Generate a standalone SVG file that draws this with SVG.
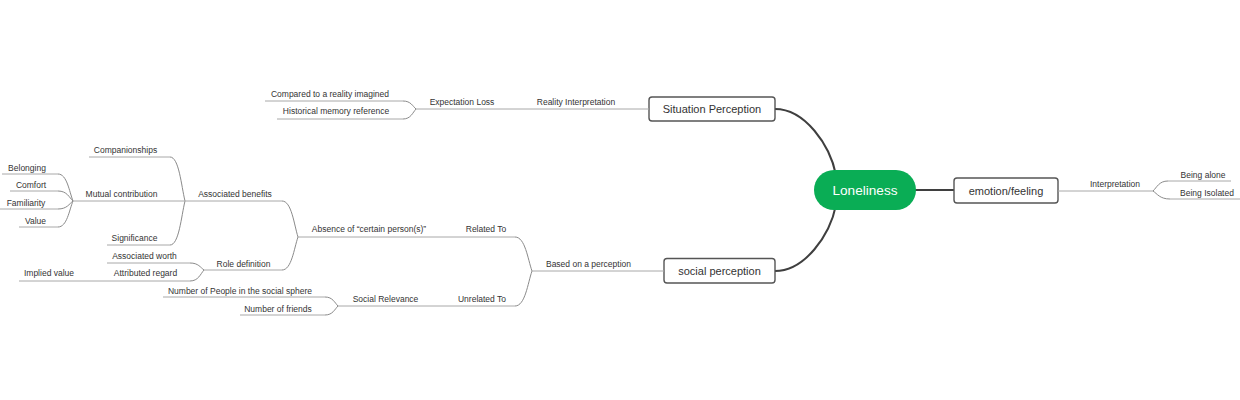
<svg xmlns="http://www.w3.org/2000/svg" width="1240" height="400" viewBox="0 0 1240 400">
<style>
.t{font-family:"Liberation Sans",Arial,sans-serif;font-size:8.5px;fill:#333;text-anchor:middle}
.nt{font-family:"Liberation Sans",Arial,sans-serif;font-size:11px;fill:#333;text-anchor:middle}
.ul{stroke:#a8a8a8;stroke-width:1;fill:none}
.br{stroke:#8a8a8a;stroke-width:1;fill:none}
.main{stroke:#3f3f3f;stroke-width:2;fill:none}
.box{fill:#fff;stroke:#555;stroke-width:1.4}
</style>
<rect width="1240" height="400" fill="#fff"/>
<g id="connectors">
<path class="main" d="M775,109 C805,109 830,145 836,175"/>
<path class="main" d="M775,271 C805,271 830,235 836,205"/>
<path class="main" d="M900,190 L954,190"/>
<path class="br" d="M403,101 C410.8,101 412.75,106.2 416,109"/>
<path class="br" d="M403,119 C410.8,119 412.75,112.5 416,109"/>
<path class="br" d="M170,157 C179,157 181.25,185.6 185,201"/>
<path class="br" d="M170,245 C179,245 181.25,216.4 185,201"/>
<path class="br" d="M58,174 C67,174 69.25,191.55 73,201"/>
<path class="br" d="M58,191 C67,191 69.25,197.5 73,201"/>
<path class="br" d="M58,209 C67,209 69.25,203.8 73,201"/>
<path class="br" d="M58,227 C67,227 69.25,210.1 73,201"/>
<path class="br" d="M282,201 C291.6,201 294,224.4 298,237"/>
<path class="br" d="M282,270 C291.6,270 294,248.55 298,237"/>
<path class="br" d="M190,263 C198.4,263 200.5,267.55 204,270"/>
<path class="br" d="M190,281 C198.4,281 200.5,273.85 204,270"/>
<path class="br" d="M515,237 C525.2,237 527.75,259.1 532,271"/>
<path class="br" d="M515,306 C525.2,306 527.75,283.25 532,271"/>
<path class="br" d="M325,297 C332.8,297 334.75,302.85 338,306"/>
<path class="br" d="M325,315 C332.8,315 334.75,309.15 338,306"/>
<path class="br" d="M1168,181 C1159,181 1156.75,187.5 1153,191"/>
<path class="br" d="M1170,199 C1159.8,199 1157.25,193.8 1153,191"/>
</g>
<g id="loneliness">
<rect x="814" y="170" width="102" height="40" rx="20" fill="#0aad55"/>
<text x="865" y="195" font-family="Liberation Sans,Arial,sans-serif" font-size="13.6" fill="#fff" text-anchor="middle">Loneliness</text>
</g>
<g id="situation-perception">
<rect class="box" x="649" y="97" width="126" height="24" rx="3"/>
<text class="nt" x="712" y="113">Situation Perception</text>
</g>
<g id="social-perception">
<rect class="box" x="664" y="258.5" width="111" height="24.5" rx="3"/>
<text class="nt" x="719.5" y="275">social perception</text>
</g>
<g id="emotion-feeling">
<rect class="box" x="954" y="178" width="104" height="25" rx="3"/>
<text class="nt" x="1006" y="195">emotion/feeling</text>
</g>
<g id="reality-interpretation"><line class="ul" x1="520" y1="109" x2="649" y2="109"/><text class="t" x="576" y="105">Reality Interpretation</text></g>
<g id="expectation-loss"><line class="ul" x1="416" y1="109" x2="520" y2="109"/><text class="t" x="462" y="105">Expectation Loss</text></g>
<g id="compared"><line class="ul" x1="265" y1="101" x2="403" y2="101"/><text class="t" x="330" y="97">Compared to a reality imagined</text></g>
<g id="historical"><line class="ul" x1="277" y1="119" x2="403" y2="119"/><text class="t" x="336" y="114">Historical memory reference</text></g>
<g id="based-on-perception"><line class="ul" x1="532" y1="271" x2="664" y2="271"/><text class="t" x="588.5" y="267">Based on a perception</text></g>
<g id="related-to"><line class="ul" x1="445" y1="237" x2="515" y2="237"/><text class="t" x="486" y="232">Related To</text></g>
<g id="absence"><line class="ul" x1="298" y1="237" x2="445" y2="237"/><text class="t" x="369" y="232">Absence of “certain person(s)”</text></g>
<g id="associated-benefits"><line class="ul" x1="185" y1="201" x2="282" y2="201"/><text class="t" x="235" y="197">Associated benefits</text></g>
<g id="companionships"><line class="ul" x1="89" y1="157" x2="170" y2="157"/><text class="t" x="125.5" y="153">Companionships</text></g>
<g id="mutual-contribution"><line class="ul" x1="73" y1="201" x2="185" y2="201"/><text class="t" x="121.5" y="197">Mutual contribution</text></g>
<g id="significance"><line class="ul" x1="107" y1="245" x2="170" y2="245"/><text class="t" x="134.5" y="241">Significance</text></g>
<g id="belonging"><line class="ul" x1="2" y1="174" x2="58" y2="174"/><text class="t" x="27" y="171">Belonging</text></g>
<g id="comfort"><line class="ul" x1="10" y1="191" x2="58" y2="191"/><text class="t" x="31" y="188">Comfort</text></g>
<g id="familiarity"><line class="ul" x1="0" y1="209" x2="58" y2="209"/><text class="t" x="26" y="206">Familiarity</text></g>
<g id="value"><line class="ul" x1="19" y1="227" x2="58" y2="227"/><text class="t" x="35.5" y="224">Value</text></g>
<g id="role-definition"><line class="ul" x1="204" y1="270" x2="282" y2="270"/><text class="t" x="243.5" y="267">Role definition</text></g>
<g id="associated-worth"><line class="ul" x1="107" y1="263" x2="190" y2="263"/><text class="t" x="144.5" y="259">Associated worth</text></g>
<g id="attributed-regard"><line class="ul" x1="110" y1="281" x2="190" y2="281"/><text class="t" x="145.5" y="276">Attributed regard</text></g>
<g id="implied-value"><line class="ul" x1="19" y1="281" x2="110" y2="281"/><text class="t" x="49" y="276">Implied value</text></g>
<g id="unrelated-to"><line class="ul" x1="440" y1="306" x2="515" y2="306"/><text class="t" x="482" y="302">Unrelated To</text></g>
<g id="social-relevance"><line class="ul" x1="338" y1="306" x2="440" y2="306"/><text class="t" x="385.5" y="302">Social Relevance</text></g>
<g id="number-people"><line class="ul" x1="163" y1="297" x2="325" y2="297"/><text class="t" x="240" y="294">Number of People in the social sphere</text></g>
<g id="number-friends"><line class="ul" x1="240" y1="315" x2="325" y2="315"/><text class="t" x="278" y="312">Number of friends</text></g>
<g id="interpretation"><line class="ul" x1="1058" y1="191" x2="1153" y2="191"/><text class="t" x="1115" y="187">Interpretation</text></g>
<g id="being-alone"><line class="ul" x1="1168" y1="181" x2="1231" y2="181"/><text class="t" x="1203" y="178">Being alone</text></g>
<g id="being-isolated"><line class="ul" x1="1170" y1="199" x2="1240" y2="199"/><text class="t" x="1207" y="196">Being Isolated</text></g>
</svg>
